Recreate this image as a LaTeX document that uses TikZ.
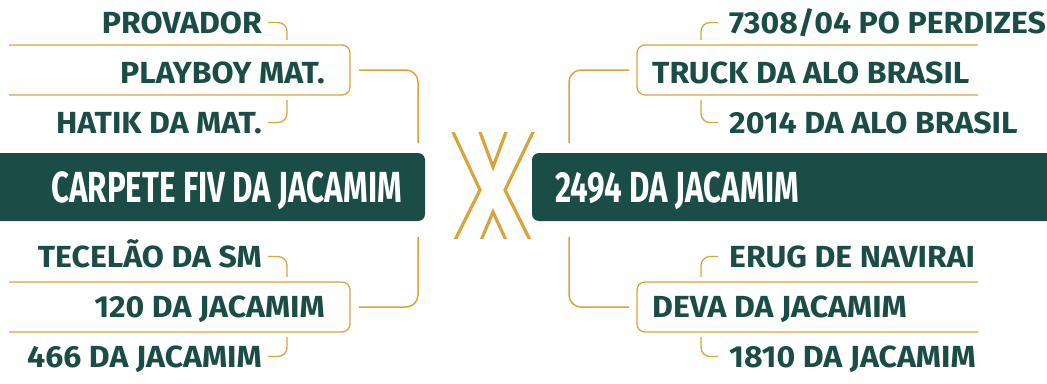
\documentclass[tikz,border=0pt]{standalone}
\usepackage{fontspec}
\setmainfont{Fira Sans}
\newfontfamily\headfont[FakeStretch=0.72]{Fira Sans}
\newfontfamily\itemfont[FakeStretch=1.05]{Fira Sans}
\definecolor{jgreen}{RGB}{27,77,71}
\definecolor{jgold}{RGB}{216,164,60}

\begin{document}
\begin{tikzpicture}[x=1pt, y=-1pt,
    mainbox/.style={fill=jgreen, rounded corners=7pt, minimum height=68pt, inner sep=0pt},
    mainlabel/.style={text=white, inner sep=0pt,
        font=\headfont\bfseries\fontsize{43.5}{44}\selectfont},
    itemlabel/.style={text=jgreen, inner sep=0pt, text height=21pt, text depth=0pt,
        font=\itemfont\bfseries\fontsize{30.5}{31}\selectfont},
    itembox/.style={draw=jgold, line width=1.3pt, rounded corners=8pt},
    hook/.style={draw=jgold, line width=1.3pt, rounded corners=9pt},
    bracket/.style={draw=jgold, line width=1.5pt, rounded corners=12pt},
    cross/.style={draw=jgold, line width=3.2pt}]

\useasboundingbox (0,0) rectangle (1047,383);

% --- MAIN BOXES ---
\node[mainbox, minimum width=445pt] (lbox) at (202.5,187) {};
\node[mainbox, minimum width=535pt] (rbox) at (799.5,187) {};
\node[mainlabel, anchor=base east] (lmain) at (402,202) {CARPETE FIV DA JACAMIM};
\node[mainlabel, anchor=base west] (rmain) at (555,202) {2494 DA JACAMIM};

% --- THE X (ends cut flat) ---
\begin{scope}
    \clip (440,132) rectangle (550,238);
    \draw[cross] (449.7,125) -- (480,190) -- (452.5,245);
    \draw[cross] (536.4,125) -- (505,190) -- (532.5,245);
    \draw[cross] (477.4,125) -- (493,167) -- (508.6,125);
    \draw[cross] (479,245) -- (493,212) -- (508.2,245);
\end{scope}

% --- LEFT BRANCHES ---
\coordinate (lup) at (418,143);
\coordinate (ldown) at (418,237);
\coordinate (ltbox) at (350,70);
\coordinate (lbbox) at (350,307);

\draw[itembox] (9,45) -- (350,45) -- (350,95) -- (9,95);
\draw[itembox] (9,282) -- (350,282) -- (350,332) -- (9,332);
\draw[bracket] ([xshift=9pt]ltbox) -| (lup);
\draw[bracket] ([xshift=9pt]lbbox) -| (ldown);

\node[itemlabel, anchor=base east] (prov) at (262,33) {PROVADOR};
\node[itemlabel, anchor=base east] (play) at (325,83) {PLAYBOY MAT.};
\node[itemlabel, anchor=base east] (hatik) at (262,133) {HATIK DA MAT.};
\node[itemlabel, anchor=base east] (tece) at (262,267) {TECELÃO DA SM};
\node[itemlabel, anchor=base east] (jac120) at (325,317) {120 DA JACAMIM};
\node[itemlabel, anchor=base east] (jac466) at (262,367) {466 DA JACAMIM};

\draw[hook] ([xshift=6pt]prov.east) -| (287,40);
\draw[hook] ([xshift=6pt]hatik.east) -| (287,100);
\draw[hook] ([xshift=6pt]tece.east) -| (287,277);
\draw[hook] ([xshift=6pt]jac466.east) -| (287,337);

% --- RIGHT BRANCHES ---
\coordinate (rup) at (569,143);
\coordinate (rdown) at (569,237);
\coordinate (rtbox) at (637,70);
\coordinate (rbbox) at (637,307);

\draw[itembox] (978,45) -- (637,45) -- (637,95) -- (978,95);
\draw[itembox] (978,282) -- (637,282) -- (637,332) -- (978,332);
\draw[bracket] ([xshift=-8pt]rtbox) -| (rup);
\draw[bracket] ([xshift=-8pt]rbbox) -| (rdown);

\node[itemlabel, anchor=base west] (perd) at (729,33) {7308/04 PO PERDIZES};
\node[itemlabel, anchor=base west] (truck) at (652,83) {TRUCK DA ALO BRASIL};
\node[itemlabel, anchor=base west] (alo) at (729,133) {2014 DA ALO BRASIL};
\node[itemlabel, anchor=base west] (erug) at (729,267) {ERUG DE NAVIRAI};
\node[itemlabel, anchor=base west] (deva) at (652,317) {DEVA DA JACAMIM};
\node[itemlabel, anchor=base west] (jac1810) at (729,367) {1810 DA JACAMIM};

\draw[hook] ([xshift=-11pt]perd.west) -| (701,40);
\draw[hook] ([xshift=-11pt]alo.west) -| (701,100);
\draw[hook] ([xshift=-11pt]erug.west) -| (701,277);
\draw[hook] ([xshift=-11pt]jac1810.west) -| (701,337);

\end{tikzpicture}
\end{document}
